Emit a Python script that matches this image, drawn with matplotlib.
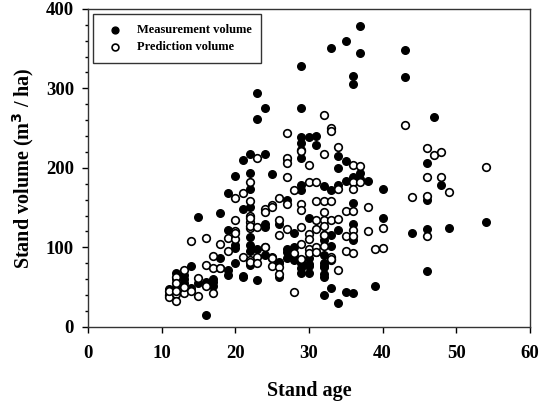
import matplotlib
matplotlib.use("Agg")
import matplotlib.pyplot as plt
from matplotlib.ticker import MultipleLocator

plt.rcParams['font.family'] = ['Liberation Serif', 'DejaVu Serif']
plt.rcParams['font.weight'] = 'bold'
plt.rcParams['mathtext.default'] = 'bf'

# Measurement volume (filled)
meas_age = [11, 11, 12, 12, 12, 13, 13, 13, 14, 14, 15, 15, 16, 16, 17, 17, 17,
            18, 18, 18, 19, 19, 19, 19, 20, 20, 20, 20, 21, 21, 21, 21,
            22, 22, 22, 22, 22, 22, 22, 22, 23, 23, 23, 23, 24, 24, 24, 24, 24,
            25, 25, 26, 26, 26, 26, 27, 27, 27, 27, 27, 28, 28, 28, 28,
            29, 29, 29, 29, 29, 29, 29, 29, 29, 29, 29, 30, 30, 30, 30, 30, 30,
            31, 31, 31, 32, 32, 32, 32, 32, 32, 32, 32, 32, 33, 33, 33, 33, 33,
            34, 34, 34, 34, 34, 35, 35, 35, 35, 36, 36, 36, 36, 36, 36, 36,
            37, 37, 37, 37, 38, 39, 40, 40, 43, 43, 44, 46, 46, 46, 46, 47, 48, 49, 54]
meas_vol = [48, 45, 68, 60, 50, 60, 55, 65, 77, 49, 138, 55, 15, 56, 56, 51, 60,
            143, 86, 74, 169, 122, 71, 65, 190, 99, 103, 80, 210, 148, 63, 64,
            218, 193, 174, 151, 103, 95, 78, 113, 294, 262, 59, 98, 275, 218, 130, 125, 90,
            192, 88, 130, 81, 80, 63, 211, 160, 98, 94, 87, 118, 100, 92, 84,
            328, 275, 239, 231, 213, 179, 172, 81, 68, 80, 74, 239, 137, 87, 79, 76, 68,
            240, 229, 94, 177, 109, 90, 80, 76, 75, 67, 63, 40, 351, 172, 116, 102, 49,
            215, 200, 179, 122, 30, 359, 209, 183, 44, 316, 305, 188, 156, 130, 109, 43,
            379, 344, 193, 186, 184, 51, 173, 137, 348, 314, 118, 206, 160, 123, 70, 264, 179, 124, 132]

# Prediction volume (open)
pred_age = [11, 11, 11, 12, 12, 12, 12, 12, 13, 13, 13, 14, 14, 15, 15, 16, 16, 16,
            17, 17, 17, 18, 18, 19, 19, 20, 20, 20, 20, 20, 21, 21,
            22, 22, 22, 22, 22, 22, 22, 22, 22, 23, 23, 23, 23, 24, 24, 24, 24,
            25, 25, 25, 25, 25, 26, 26, 26, 26, 26, 27, 27, 27, 27, 27, 27, 28, 28, 28,
            29, 29, 29, 29, 29, 29, 29, 30, 30, 30, 30, 30, 30, 31, 31, 31, 31, 31, 31,
            32, 32, 32, 32, 32, 32, 32, 32, 32, 33, 33, 33, 33, 33, 33, 33,
            34, 34, 34, 34, 35, 35, 35, 36, 36, 36, 36, 36, 36, 36, 37, 37, 38, 38,
            39, 40, 40, 43, 44, 46, 46, 46, 46, 47, 48, 48, 49, 54]
pred_vol = [40, 38, 45, 63, 55, 41, 32, 45, 72, 42, 50, 108, 45, 62, 39, 112, 78, 51,
            89, 74, 42, 104, 74, 112, 95, 162, 135, 120, 110, 118, 169, 88,
            182, 158, 140, 132, 124, 137, 127, 84, 82, 213, 88, 80, 125, 148, 145, 101, 100,
            153, 151, 87, 86, 77, 162, 135, 115, 75, 67, 244, 212, 206, 189, 154, 123, 172, 93, 44,
            222, 221, 155, 147, 125, 104, 85, 204, 182, 117, 111, 98, 93, 182, 158, 134, 123, 100, 94,
            266, 218, 158, 145, 134, 127, 115, 116, 102, 250, 246, 158, 134, 88, 84, 85,
            226, 173, 136, 72, 146, 114, 95, 204, 182, 173, 146, 122, 114, 93, 202, 182, 151, 121,
            98, 124, 99, 254, 163, 225, 188, 165, 114, 216, 220, 189, 170, 201]

x_ticks = [0, 10, 20, 30, 40, 50, 60]
y_ticks = [0, 100, 200, 300, 400]

fig = plt.figure(figsize=(5.39, 4.05), dpi=100)
ax = fig.add_axes([0.163, 0.193, 0.820, 0.785])

ax.scatter(meas_age, meas_vol, s=30, facecolor='black', edgecolor='black',
           linewidth=1.0, label='Measurement volume', zorder=3)
ax.scatter(pred_age, pred_vol, s=30, facecolor='white', edgecolor='black',
           linewidth=1.2, label='Prediction volume', zorder=4)

ax.set_xlim(0, 60)
ax.set_ylim(0, 400)
ax.set_xticks(x_ticks)
ax.set_yticks(y_ticks)
ax.yaxis.set_minor_locator(MultipleLocator(20))
ax.tick_params(axis='both', which='major', direction='out', length=4, width=1,
               labelsize=13.5)
ax.tick_params(axis='x', which='major', pad=9)
ax.tick_params(axis='y', which='major', pad=6)
ax.tick_params(axis='y', which='minor', direction='out', length=2.5, width=1)
for lab in ax.get_xticklabels() + ax.get_yticklabels():
    lab.set_fontweight('bold')
for sp in ax.spines.values():
    sp.set_color('#333333')
    sp.set_linewidth(1.0)

ax.set_xlabel('Stand age', fontsize=14.5, fontweight='bold', labelpad=14)
ax.set_ylabel('Stand volume (m$^3$ / ha)', fontsize=14.5, fontweight='bold', labelpad=7)

leg = ax.legend(loc='upper left', fontsize=9.0, frameon=True, fancybox=False,
                edgecolor='black', borderpad=0.8, handletextpad=0.7,
                borderaxespad=0.4, labelspacing=0.4, markerscale=0.9)
leg.get_frame().set_linewidth(1.0)
for t in leg.get_texts():
    t.set_fontweight('bold')

fig.savefig('out.png', dpi=100)
